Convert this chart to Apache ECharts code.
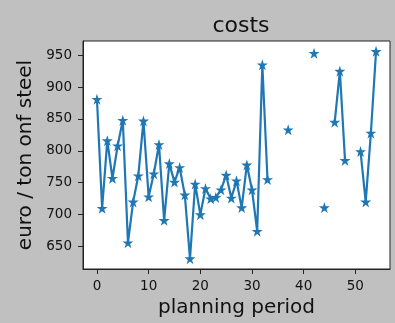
<!DOCTYPE html>
<html>
<head>
<meta charset="utf-8">
<script src="https://cdn.jsdelivr.net/npm/echarts@6/dist/echarts.min.js"></script>
<style>
html,body{margin:0;padding:0;background:#c0c0c0;}
#chart{width:395px;height:323px;}
</style>
</head>
<body>
<div id="chart"></div>
<script>
// planning periods 0..54 and cost per period (null = no value)
const periods = Array.from({length: 55}, (_, i) => i);
const costs = [881, 710, 816, 757, 808, 848, 656, 720, 761, 847,
               728, 764, 810, 691, 780, 751, 774, 731, 631, 748,
               700, 741, 725, 727, 739, 762, 726, 753, 711, 778,
               739, 674, 935, 755, null, null, null, 833, null, null,
               null, null, 953, null, 711, null, 845, 925, 785, null,
               null, 799, 720, 828, 956];
const xTicks = [0, 10, 20, 30, 40, 50];
const yTicks = [650, 700, 750, 800, 850, 900, 950];
const titleText = 'costs';
const xName = 'planning period';
const yName = 'euro / ton onf steel';

const STAR = 'path://M50,0 L61.2,34.5 L97.6,34.5 L68.2,55.9 L79.4,90.5 L50,69.1 L20.6,90.5 L31.8,55.9 L2.4,34.5 L38.8,34.5 Z';

const vals = costs.filter(v => v != null);
const yMinD = Math.min(...vals), yMaxD = Math.max(...vals);
const yPad = (yMaxD - yMinD) * 0.05;
const xMinD = periods[0], xMaxD = periods[periods.length - 1];
const xPad = (xMaxD - xMinD) * 0.05;

const chart = echarts.init(document.getElementById('chart'), null, {renderer: 'canvas'});
const font = 'DejaVu Sans';
chart.setOption({
  backgroundColor: '#c0c0c0',
  animation: false,
  title: {
    text: titleText,
    left: 236,
    textAlign: 'center',
    top: 10,
    textStyle: {fontFamily: font, fontSize: 22, fontWeight: 'normal', color: '#111'}
  },
  grid: {
    left: 83, right: 5, top: 41, bottom: 52,
    show: true, backgroundColor: '#ffffff', borderColor: '#222', borderWidth: 1
  },
  xAxis: {
    type: 'value',
    min: xMinD - xPad, max: xMaxD + xPad,
    name: xName, nameLocation: 'middle', nameGap: 29,
    nameTextStyle: {fontFamily: font, fontSize: 20, color: '#111'},
    splitLine: {show: false},
    axisLine: {show: true, onZero: false, lineStyle: {color: '#222', width: 1}},
    axisTick: {show: true, length: 5, customValues: xTicks, lineStyle: {color: '#222'}},
    axisLabel: {customValues: xTicks, margin: 10, fontFamily: font, fontSize: 13.5, color: '#111'}
  },
  yAxis: {
    type: 'value',
    min: yMinD - yPad, max: yMaxD + yPad,
    name: yName, nameLocation: 'middle', nameGap: 42,
    nameTextStyle: {fontFamily: font, fontSize: 20, color: '#111'},
    splitLine: {show: false},
    axisLine: {show: true, onZero: false, lineStyle: {color: '#222', width: 1}},
    axisTick: {show: true, length: 5, customValues: yTicks, lineStyle: {color: '#222'}},
    axisLabel: {customValues: yTicks, margin: 11, fontFamily: font, fontSize: 13.5, color: '#111'}
  },
  series: [{
    type: 'line',
    data: periods.map((p, i) => [p, costs[i] == null ? '-' : costs[i]]),
    connectNulls: false,
    showSymbol: true,
    showAllSymbol: true,
    symbol: STAR,
    symbolSize: 11,
    lineStyle: {color: '#1f77b4', width: 2.2},
    itemStyle: {color: '#1f77b4'}
  }]
});
</script>
</body>
</html>
